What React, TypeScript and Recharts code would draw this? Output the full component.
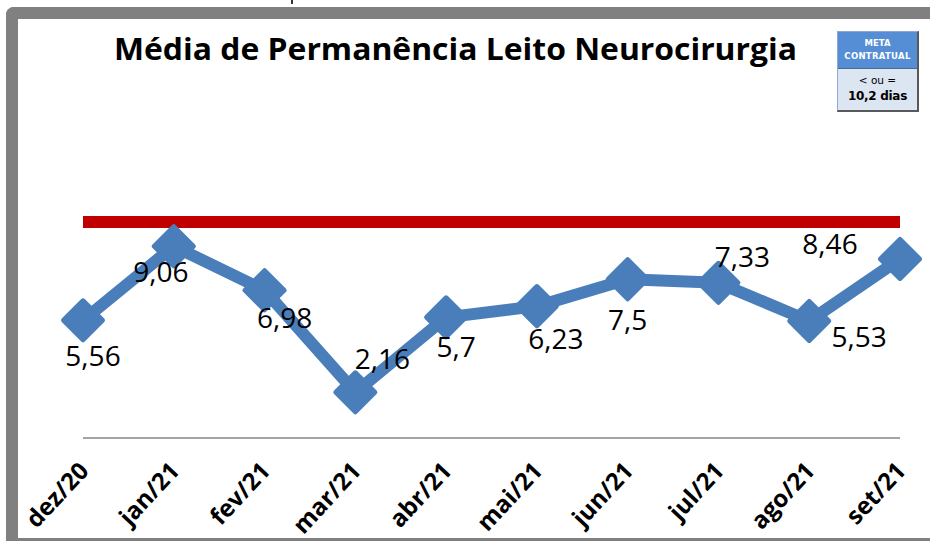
import React from 'react';
import { LineChart, Line, XAxis, YAxis, ReferenceLine, LabelList } from 'recharts';

const chartTitle = 'Média de Permanência Leito Neurocirurgia';
const months = ['dez/20', 'jan/21', 'fev/21', 'mar/21', 'abr/21', 'mai/21', 'jun/21', 'jul/21', 'ago/21', 'set/21'];
const permanencia = [5.56, 9.06, 6.98, 2.16, 5.7, 6.23, 7.5, 7.33, 5.53, 8.46];
const metaValue = 10.2;
const metaHeader = ['META', 'CONTRATUAL'];
const metaRule = ['< ou =', '10,2 dias'];

// label placement offsets (layout only)
const labelDx = [10, -13, 20, 27, 10, 19, 0, 24, 50, -70];
const labelDy = [35, 25, 27, -34, 29, 32, 40, -27, 15, -16];

const data = months.map((m, i) => ({ month: m, value: permanencia[i] }));

const BLUE = '#4A7EBB';
const FONT = '"Open Sans", "Noto Sans", sans-serif';

const fmt = (v: number) => String(v).replace('.', ',');

const Diamond = (props: any) => {
  const { cx, cy, index } = props;
  if (cx == null || cy == null) return null;
  const r = 19.5;
  return (
    <polygon
      key={`d-${index}`}
      points={`${cx},${cy - r} ${cx + r},${cy} ${cx},${cy + r} ${cx - r},${cy}`}
      fill={BLUE}
      stroke={BLUE}
      strokeWidth={5}
      strokeLinejoin="round"
    />
  );
};

const ValueLabel = (props: any) => {
  const { x, y, value, index } = props;
  return (
    <text
      x={x + labelDx[index]}
      y={y + labelDy[index]}
      textAnchor="middle"
      dominantBaseline="central"
      fontFamily={FONT}
      fontSize={28}
      fill="#000"
    >
      {fmt(value)}
    </text>
  );
};

const MonthTick = (props: any) => {
  const { x, payload } = props;
  const ax = x + 7;
  const ay = 472;
  return (
    <text
      x={ax}
      y={ay}
      transform={`rotate(-47 ${ax} ${ay})`}
      textAnchor="end"
      fontFamily={FONT}
      fontWeight="bold"
      fontSize={24}
      fill="#000"
    >
      {payload.value}
    </text>
  );
};

export default function App() {
  return (
    <div style={{ position: 'fixed', left: 0, top: 0, width: 930, height: 541, overflow: 'hidden', background: '#fff' }}>
      <div
        style={{
          position: 'absolute',
          left: 6,
          top: 7,
          width: 1100,
          height: 543,
          boxSizing: 'border-box',
          borderTop: '12px solid #808080',
          borderLeft: '12px solid #808080',
          borderBottom: '12px solid #808080',
          borderRight: 'none',
          borderTopLeftRadius: 8,
          borderBottomLeftRadius: 8,
        }}
      />
      <div style={{ position: 'absolute', left: 291, top: 0, width: 2, height: 4, background: '#333' }} />
      <div style={{ position: 'absolute', left: 0, top: 0 }}>
        <LineChart width={930} height={541} data={data} margin={{ top: 184, right: 30, bottom: 0, left: 83 }}>
          <XAxis
            dataKey="month"
            height={103}
            tick={<MonthTick />}
            tickLine={false}
            axisLine={{ stroke: '#868686', strokeWidth: 1.5 }}
            interval={0}
          />
          <YAxis hide domain={[0, 12]} />
          <ReferenceLine y={metaValue} stroke="#C00000" strokeWidth={12} />
          <Line
            dataKey="value"
            stroke={BLUE}
            strokeWidth={12}
            strokeLinejoin="round"
            dot={<Diamond />}
            activeDot={false}
            isAnimationActive={false}
          >
            <LabelList dataKey="value" content={<ValueLabel />} />
          </Line>
        </LineChart>
      </div>
      <svg style={{ position: 'absolute', left: 0, top: 0 }} width={930} height={100}>
        <text x={114} y={60} textLength={683} lengthAdjust="spacingAndGlyphs" fontFamily={FONT} fontWeight="bold" fontSize={31} fill="#000">
          {chartTitle}
        </text>
      </svg>
      <div
        style={{
          position: 'absolute',
          left: 837,
          top: 31,
          width: 82,
          height: 81,
          boxSizing: 'border-box',
          borderTop: '1px solid #8EA9CF',
          borderLeft: '1px solid #8EA9CF',
          borderRight: '2px solid #595959',
          borderBottom: '2px solid #595959',
          fontFamily: '"DejaVu Sans", sans-serif',
          textAlign: 'center',
        }}
      >
        <div style={{ height: 37, background: '#558ED5', color: '#fff', fontSize: 8.5, fontWeight: 'bold', lineHeight: '13px', paddingTop: 5, boxSizing: 'border-box', borderBottom: '1px solid #4A6A94' }}>
          <div>{metaHeader[0]}</div>
          <div style={{ letterSpacing: 0.3 }}>{metaHeader[1]}</div>
        </div>
        <div style={{ height: 41, background: '#DCE6F2', color: '#000', boxSizing: 'border-box', paddingTop: 3 }}>
          <div style={{ fontSize: 10.5, lineHeight: '16px' }}>{metaRule[0]}</div>
          <div style={{ fontSize: 12, fontWeight: 'bold', lineHeight: '17px', letterSpacing: -0.3 }}>{metaRule[1]}</div>
        </div>
      </div>
    </div>
  );
}
